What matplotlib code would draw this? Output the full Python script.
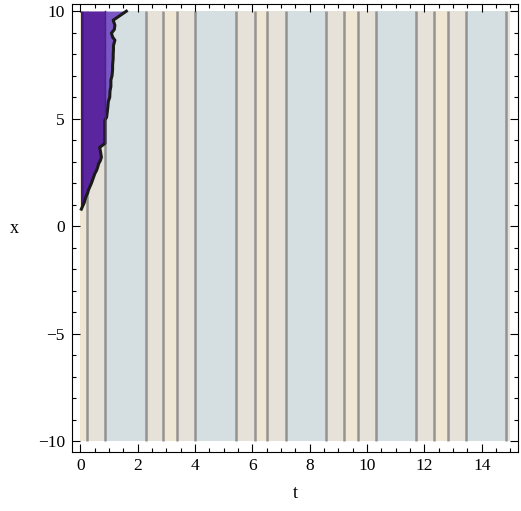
import numpy as np
import matplotlib.pyplot as plt
from matplotlib.ticker import MultipleLocator

# band edges along t (contour positions)
t_edges = [0, 0.24, 0.85, 2.29, 2.88, 3.37, 3.99, 5.42, 6.08, 6.52, 7.16,
           8.58, 9.19, 9.67, 10.30, 11.72, 12.34, 12.83, 13.45, 14.86, 15]
# level of each band: 0 = blue-grey, 1 = grey-beige, 2 = cream
band_level = [2, 1, 0, 1, 2, 1, 0, 1, 2, 1, 0, 1, 2, 1, 0, 1, 2, 1, 0, 1]
level_colors = ['#d5dee1', '#e6e2da', '#efe6d4']

# right edge of the purple region (x -> t), jagged as in the picture
edge_x = [0.80, 0.95, 1.10, 1.25, 1.44, 1.55, 1.70, 1.85, 2.00, 2.15, 2.30,
          2.45, 2.60, 2.75, 2.90, 3.05, 3.21, 3.45, 3.67, 3.80, 3.86, 4.30,
          4.93, 5.07, 5.50, 5.80, 6.00, 6.30, 6.50, 6.80, 7.00, 7.30, 7.50,
          7.81, 8.00, 8.20, 8.40, 8.65, 8.80, 8.98, 9.15, 9.35, 9.58, 10.0]
edge_t = [0.03, 0.08, 0.13, 0.16, 0.21, 0.25, 0.28, 0.33, 0.38, 0.42, 0.46,
          0.50, 0.56, 0.60, 0.63, 0.69, 0.73, 0.70, 0.67, 0.80, 0.85, 0.85,
          0.85, 0.91, 0.95, 0.97, 1.02, 1.03, 1.06, 1.06, 1.10, 1.12, 1.12,
          1.14, 1.14, 1.15, 1.15, 1.20, 1.12, 1.08, 1.18, 1.20, 1.14, 1.60]

fig = plt.figure(figsize=(5.21, 5.11), dpi=100)
ax = fig.add_axes([0.138, 0.115, 0.856, 0.877])

t_edges = np.array(t_edges)
ax.bar(t_edges[:-1], 20, width=np.diff(t_edges), bottom=-10, align='edge',
       color=[level_colors[k] for k in band_level], linewidth=0, zorder=1)
ax.vlines(t_edges[1:-1], -10, 10, color='#808080', lw=1.8, alpha=0.8, zorder=2)

ex = np.array(edge_x)
et = np.array(edge_t)
ax.fill_betweenx(ex, 0, et, color='#7a57c4', lw=0, zorder=3)
ax.fill_betweenx(ex, 0, np.minimum(et, 0.85), color='#5a259e', lw=0, zorder=3)
ax.fill_betweenx(ex, 0, np.minimum(et, 0.09), color='#42167f', lw=0, zorder=3)
ax.plot(et, ex, color='#1a1a1a', lw=2.2, zorder=4)
ax.plot([0.85, 0.85], [3.86, 10], color='#4a2288', lw=1, zorder=4)

ax.set_xlim(-0.3, 15.26)
ax.set_ylim(-10.5, 10.33)
ax.xaxis.set_major_locator(MultipleLocator(2))
ax.xaxis.set_minor_locator(MultipleLocator(0.5))
ax.yaxis.set_major_locator(MultipleLocator(5))
ax.yaxis.set_minor_locator(MultipleLocator(1))
ax.tick_params(which='both', direction='in', top=True, right=True,
               labelsize=12.5, width=0.8)
ax.tick_params(which='major', length=6)
ax.tick_params(which='minor', length=3)
ax.tick_params(axis='x', pad=4)
ax.tick_params(axis='y', pad=5)
for lab in ax.get_xticklabels() + ax.get_yticklabels():
    lab.set_family('Liberation Serif')

ax.set_xlabel('t', fontsize=13, family='Liberation Serif', labelpad=8)
ax.set_ylabel('x', fontsize=13, family='Liberation Serif', labelpad=17,
              rotation=0, va='center')

fig.savefig('out.png', dpi=100)
